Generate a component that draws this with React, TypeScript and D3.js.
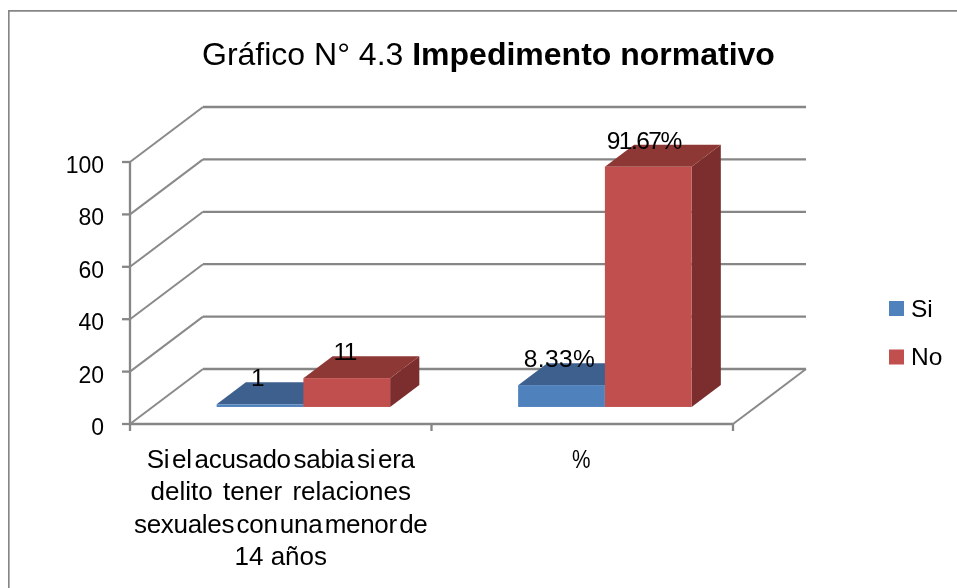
import React from 'react'
import * as d3 from 'd3'

const width = 957
const height = 588

const categories = ['Si el acusado sabia si era|delito tener relaciones|sexuales con una menor de|14 años', '%']
const seriesNames = ['Si', 'No']
const siValues = [1, 8.33]
const noValues = [11, 91.67]
const siLabels = ['1', '8.33%']
const noLabels = ['11', '91.67%']
const yTicks = [0, 20, 40, 60, 80, 100]

const colors = {
  Si: { front: '#4f81bd', top: '#3c618e', side: '#33537a' },
  No: { front: '#c0504d', top: '#8e3836', side: '#7b2f2d' },
}
const axisColor = '#868686'

// front plane of the 3d box
const plot = { left: 130, right: 733, bottom: 424, top: 162 }
const wallDx = 73
const wallDy = -55
// bars stand a bit inside the floor
const barInset = 0.31
const barDepth = 0.4

// the source squeezes some words together, so spacing is set line by line
const lineWordSpacing = [-4.1, 3, -4.6, 0]
const lineLetterSpacing = [-0.3, 0, -0.3, 0]
const noLabelNudge = [0, -2.5]

const x0 = d3.scaleBand().domain(categories).range([plot.left, plot.right])
const x1 = d3.scaleBand().domain(seriesNames).range([0, 173.5])
const y = d3.scaleLinear().domain([0, 100]).range([plot.bottom, plot.top])

const poly = (pts: [number, number][]) => d3.line()(pts) + 'Z'

const Bar = ({ cat, name, value, label, squeeze, nudge = 0 }: { cat: string, name: 'Si' | 'No', value: number, label: string, squeeze: number, nudge?: number }) => {
  const groupLeft = x0(cat)! + (x0.bandwidth() - x1.range()[1]) / 2
  const left = groupLeft + x1(name)! + wallDx * barInset
  const right = left + x1.bandwidth()
  const bottom = y(0) + wallDy * barInset
  const top = bottom - (y(0) - y(value))
  const dx = wallDx * barDepth
  const dy = wallDy * barDepth
  return (
    <g>
      <path d={poly([[right, top], [right + dx, top + dy], [right + dx, bottom + dy], [right, bottom]])} fill={colors[name].side} />
      <path d={poly([[left, top], [left + dx, top + dy], [right + dx, top + dy], [right, top]])} fill={colors[name].top} />
      <rect x={left} y={top} width={x1.bandwidth()} height={bottom - top} fill={colors[name].front} />
      <text x={(left + right) / 2 - 2 + nudge} y={top - 18} textAnchor="middle" fontSize={24.5} letterSpacing={squeeze}>{label}</text>
    </g>
  )
}

const App = () => {
  const fontFamily = '"Liberation Sans", Arial, sans-serif'

  return (
    <svg width={width} height={height} fontFamily={fontFamily} fill="#000"
      style={{ position: 'fixed', left: 0, top: 0, background: '#fff' }}>
      <defs>
        <filter id="soft" x="0" y="0" width="100%" height="100%">
          <feGaussianBlur stdDeviation="0.45" />
        </filter>
      </defs>
      <g filter="url(#soft)">
        {/* chart frame, only top and left show */}
        <path d={`M8.5,${height}V10.5H${width}`} fill="none" stroke={axisColor} strokeWidth={2.3} />

        <text x={202} y={65} fontSize={32}>
          Gráfico N° 4.3 <tspan fontWeight="bold">Impedimento normativo</tspan>
        </text>

        {/* walls */}
        <g fill="none" stroke={axisColor} strokeWidth={2.3}>
          {yTicks.map(d => (
            <path key={d} d={`M${plot.left + wallDx},${y(d) + wallDy}H${plot.right + wallDx}`} />
          ))}
          <path d={`M${plot.right},${y(0)}H${plot.left}`} />
          <path d={`M${plot.left},${y(100)}V${y(0) + 7}`} />
          {yTicks.map(d => <path key={d} d={`M${plot.left - 8},${y(d)}H${plot.left}`} />)}
          {[plot.left + x0.bandwidth(), plot.right].map(d => <path key={d} d={`M${d},${y(0)}V${y(0) + 7}`} />)}
        </g>
        {/* diagonals come out thinner in the source */}
        <g fill="none" stroke="#8a8a8a" strokeWidth={2}>
          {yTicks.map(d => (
            <path key={d} d={`M${plot.left},${y(d)}L${plot.left + wallDx},${y(d) + wallDy}`} />
          ))}
          <path d={`M${plot.right + wallDx},${y(0) + wallDy}L${plot.right},${y(0)}`} />
        </g>

        {/* y labels */}
        {yTicks.map(d => (
          <text key={d} x={104} y={y(d) + 11} textAnchor="end" fontSize={23}>{d}</text>
        ))}

        {/* bars, Si goes first so No covers its side */}
        {categories.map((c, i) => <Bar key={'si' + i} cat={c} name="Si" value={siValues[i]} label={siLabels[i]} squeeze={0.4} />)}
        {categories.map((c, i) => <Bar key={'no' + i} cat={c} name="No" value={noValues[i]} label={noLabels[i]} squeeze={-1.5} nudge={noLabelNudge[i]} />)}

        {/* category labels */}
        {categories.map((c, ci) => (
          <text key={c} textAnchor="middle" fontSize={26}
            textLength={ci === 1 ? 18.5 : undefined} lengthAdjust={ci === 1 ? 'spacingAndGlyphs' : undefined}
            x={ci === 1 ? x0(c)! + x0.bandwidth() / 2 - 1 : undefined} y={ci === 1 ? 468 : undefined}>
            {ci === 1 ? c : c.split('|').map((line, i) => (
              <tspan key={i} x={x0(c)! + x0.bandwidth() / 2} y={468 + i * 32.3}
                wordSpacing={lineWordSpacing[i]} letterSpacing={lineLetterSpacing[i]}>{line}</tspan>
            ))}
          </text>
        ))}

        {/* legend */}
        {seriesNames.map((s, i) => (
          <g key={s} transform={`translate(889,${301 + i * 48.5})`}>
            <rect width={15} height={15} fill={colors[s as 'Si' | 'No'].front} />
            <text x={22} y={15.5} fontSize={24.5}>{s}</text>
          </g>
        ))}
      </g>
    </svg>
  )
}

export default App
